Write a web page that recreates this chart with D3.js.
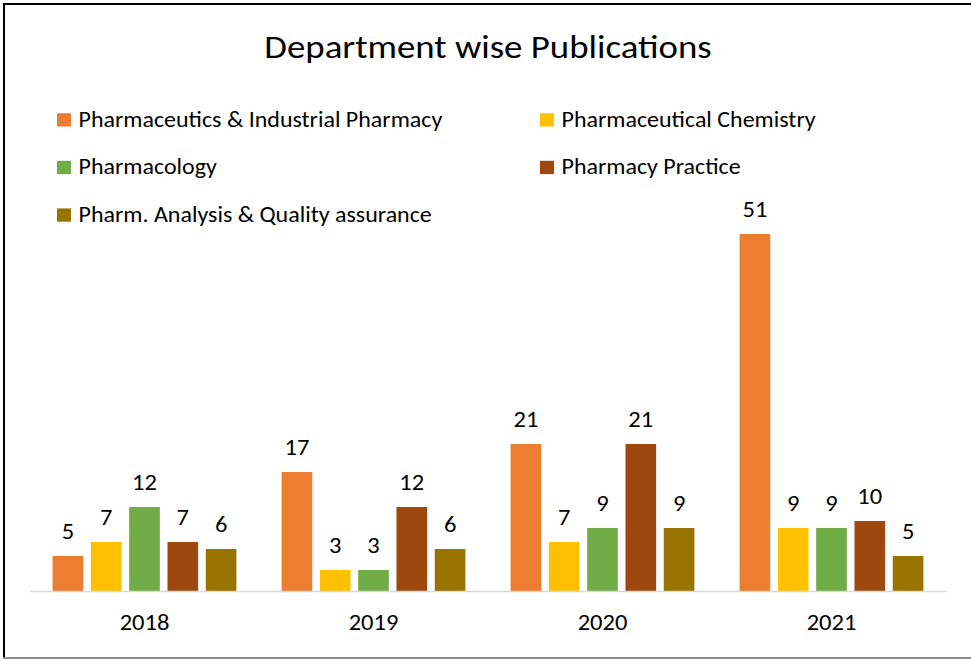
<!DOCTYPE html>
<html>
<head>
<meta charset="utf-8">
<script src="https://cdn.jsdelivr.net/npm/d3@7/dist/d3.min.js"></script>
<style>
  html, body { margin: 0; padding: 0; background: #fff; }
  svg { display: block; font-family: Carlito, Calibri, Lato, "Noto Sans", sans-serif; }
</style>
</head>
<body>
<div id="chart"></div>
<script>
// Data
const years = ['2018', '2019', '2020', '2021'];
const departments = [
  'Pharmaceutics & Industrial Pharmacy',
  'Pharmaceutical Chemistry',
  'Pharmacology',
  'Pharmacy Practice',
  'Pharm. Analysis & Quality assurance',
];
const pharmaceutics = [5, 17, 21, 51];
const chemistry = [7, 3, 7, 9];
const pharmacology = [12, 3, 9, 9];
const practice = [7, 12, 21, 10];
const analysis = [6, 6, 9, 5];

const seriesValues = [pharmaceutics, chemistry, pharmacology, practice, analysis];
const colors = ['#ED7D31', '#FFC000', '#70AD47', '#9E480E', '#997300'];

const WIDTH = 971;
const HEIGHT = 659;
const BASELINE = 591;
// fallback font is rounder than Calibri, so widen glyphs a touch instead of upsizing
const STRETCH = 1.1;

const at = (x, y) => `translate(${x},${y}) scale(${STRETCH},1)`;

const svg = d3.select('#chart')
  .append('svg')
  .attr('width', WIDTH)
  .attr('height', HEIGHT);

// frame: dark top/left, grey bottom
svg.append('line').attr('x1', 3).attr('x2', WIDTH).attr('y1', 4).attr('y2', 4)
  .attr('stroke', '#000').attr('stroke-width', 2);
svg.append('line').attr('x1', 4).attr('x2', 4).attr('y1', 3).attr('y2', HEIGHT)
  .attr('stroke', '#000').attr('stroke-width', 2);
svg.append('line').attr('x1', 3).attr('x2', WIDTH).attr('y1', 658).attr('y2', 658)
  .attr('stroke', '#8c8c8c').attr('stroke-width', 2);

svg.append('text')
  .attr('transform', at(488, 58))
  .attr('text-anchor', 'middle')
  .attr('font-size', 33.5)
  .attr('fill', '#000')
  .text('Department wise Publications');

// legend, two columns
const legendItems = departments.map((name, i) => ({ name, color: colors[i], i }));
const legendG = svg.append('g').attr('class', 'legend')
  .selectAll('g')
  .data(legendItems)
  .enter()
  .append('g')
  .attr('transform', (d) => `translate(${d.i % 2 === 0 ? 57 : 540},${126.5 + Math.floor(d.i / 2) * 47.6})`);

legendG.append('rect')
  .attr('x', 0)
  .attr('y', -13.3)
  .attr('width', 14)
  .attr('height', 13.3)
  .attr('fill', (d) => d.color);

legendG.append('text')
  .attr('transform', at(21.5, 0))
  .attr('font-size', 21.8)
  .attr('fill', '#000')
  .text((d) => d.name);

// scales
const x0 = d3.scaleBand().domain(years).range([30, 946]);
const x1 = d3.scaleBand()
  .domain(d3.range(departments.length))
  .range([0, x0.bandwidth()])
  .paddingInner(0.2)
  .paddingOuter(0.59);
const y = d3.scaleLinear().domain([0, 60]).range([BASELINE, BASELINE - 420]);

const groups = svg.append('g').attr('class', 'bars')
  .selectAll('g')
  .data(years)
  .enter()
  .append('g')
  .attr('transform', (d) => `translate(${x0(d)},0)`);

const cells = groups.selectAll('g')
  .data((yr, yi) => seriesValues.map((vals, si) => ({ si, value: vals[yi] })))
  .enter()
  .append('g');

cells.append('rect')
  .attr('x', (d) => x1(d.si))
  .attr('y', (d) => y(d.value))
  .attr('width', x1.bandwidth())
  .attr('height', (d) => BASELINE - y(d.value))
  .attr('fill', (d) => colors[d.si]);

cells.append('text')
  .attr('transform', (d) => at(x1(d.si) + x1.bandwidth() / 2, y(d.value) - 17.5))
  .attr('text-anchor', 'middle')
  .attr('font-size', 22.3)
  .attr('fill', '#000')
  .text((d) => d.value);

// category axis
const axis = svg.append('g')
  .attr('transform', `translate(0,${BASELINE})`)
  .call(d3.axisBottom(x0).tickSize(0).tickSizeOuter(0));

axis.attr('font-family', null).attr('font-size', null);
axis.select('.domain').attr('stroke', '#d9d9d9').attr('stroke-width', 1.5);
axis.selectAll('text')
  .attr('y', 0)
  .attr('dy', 0)
  .attr('transform', at(0, 39))
  .attr('font-size', 22.3)
  .attr('fill', '#000');
</script>
</body>
</html>
